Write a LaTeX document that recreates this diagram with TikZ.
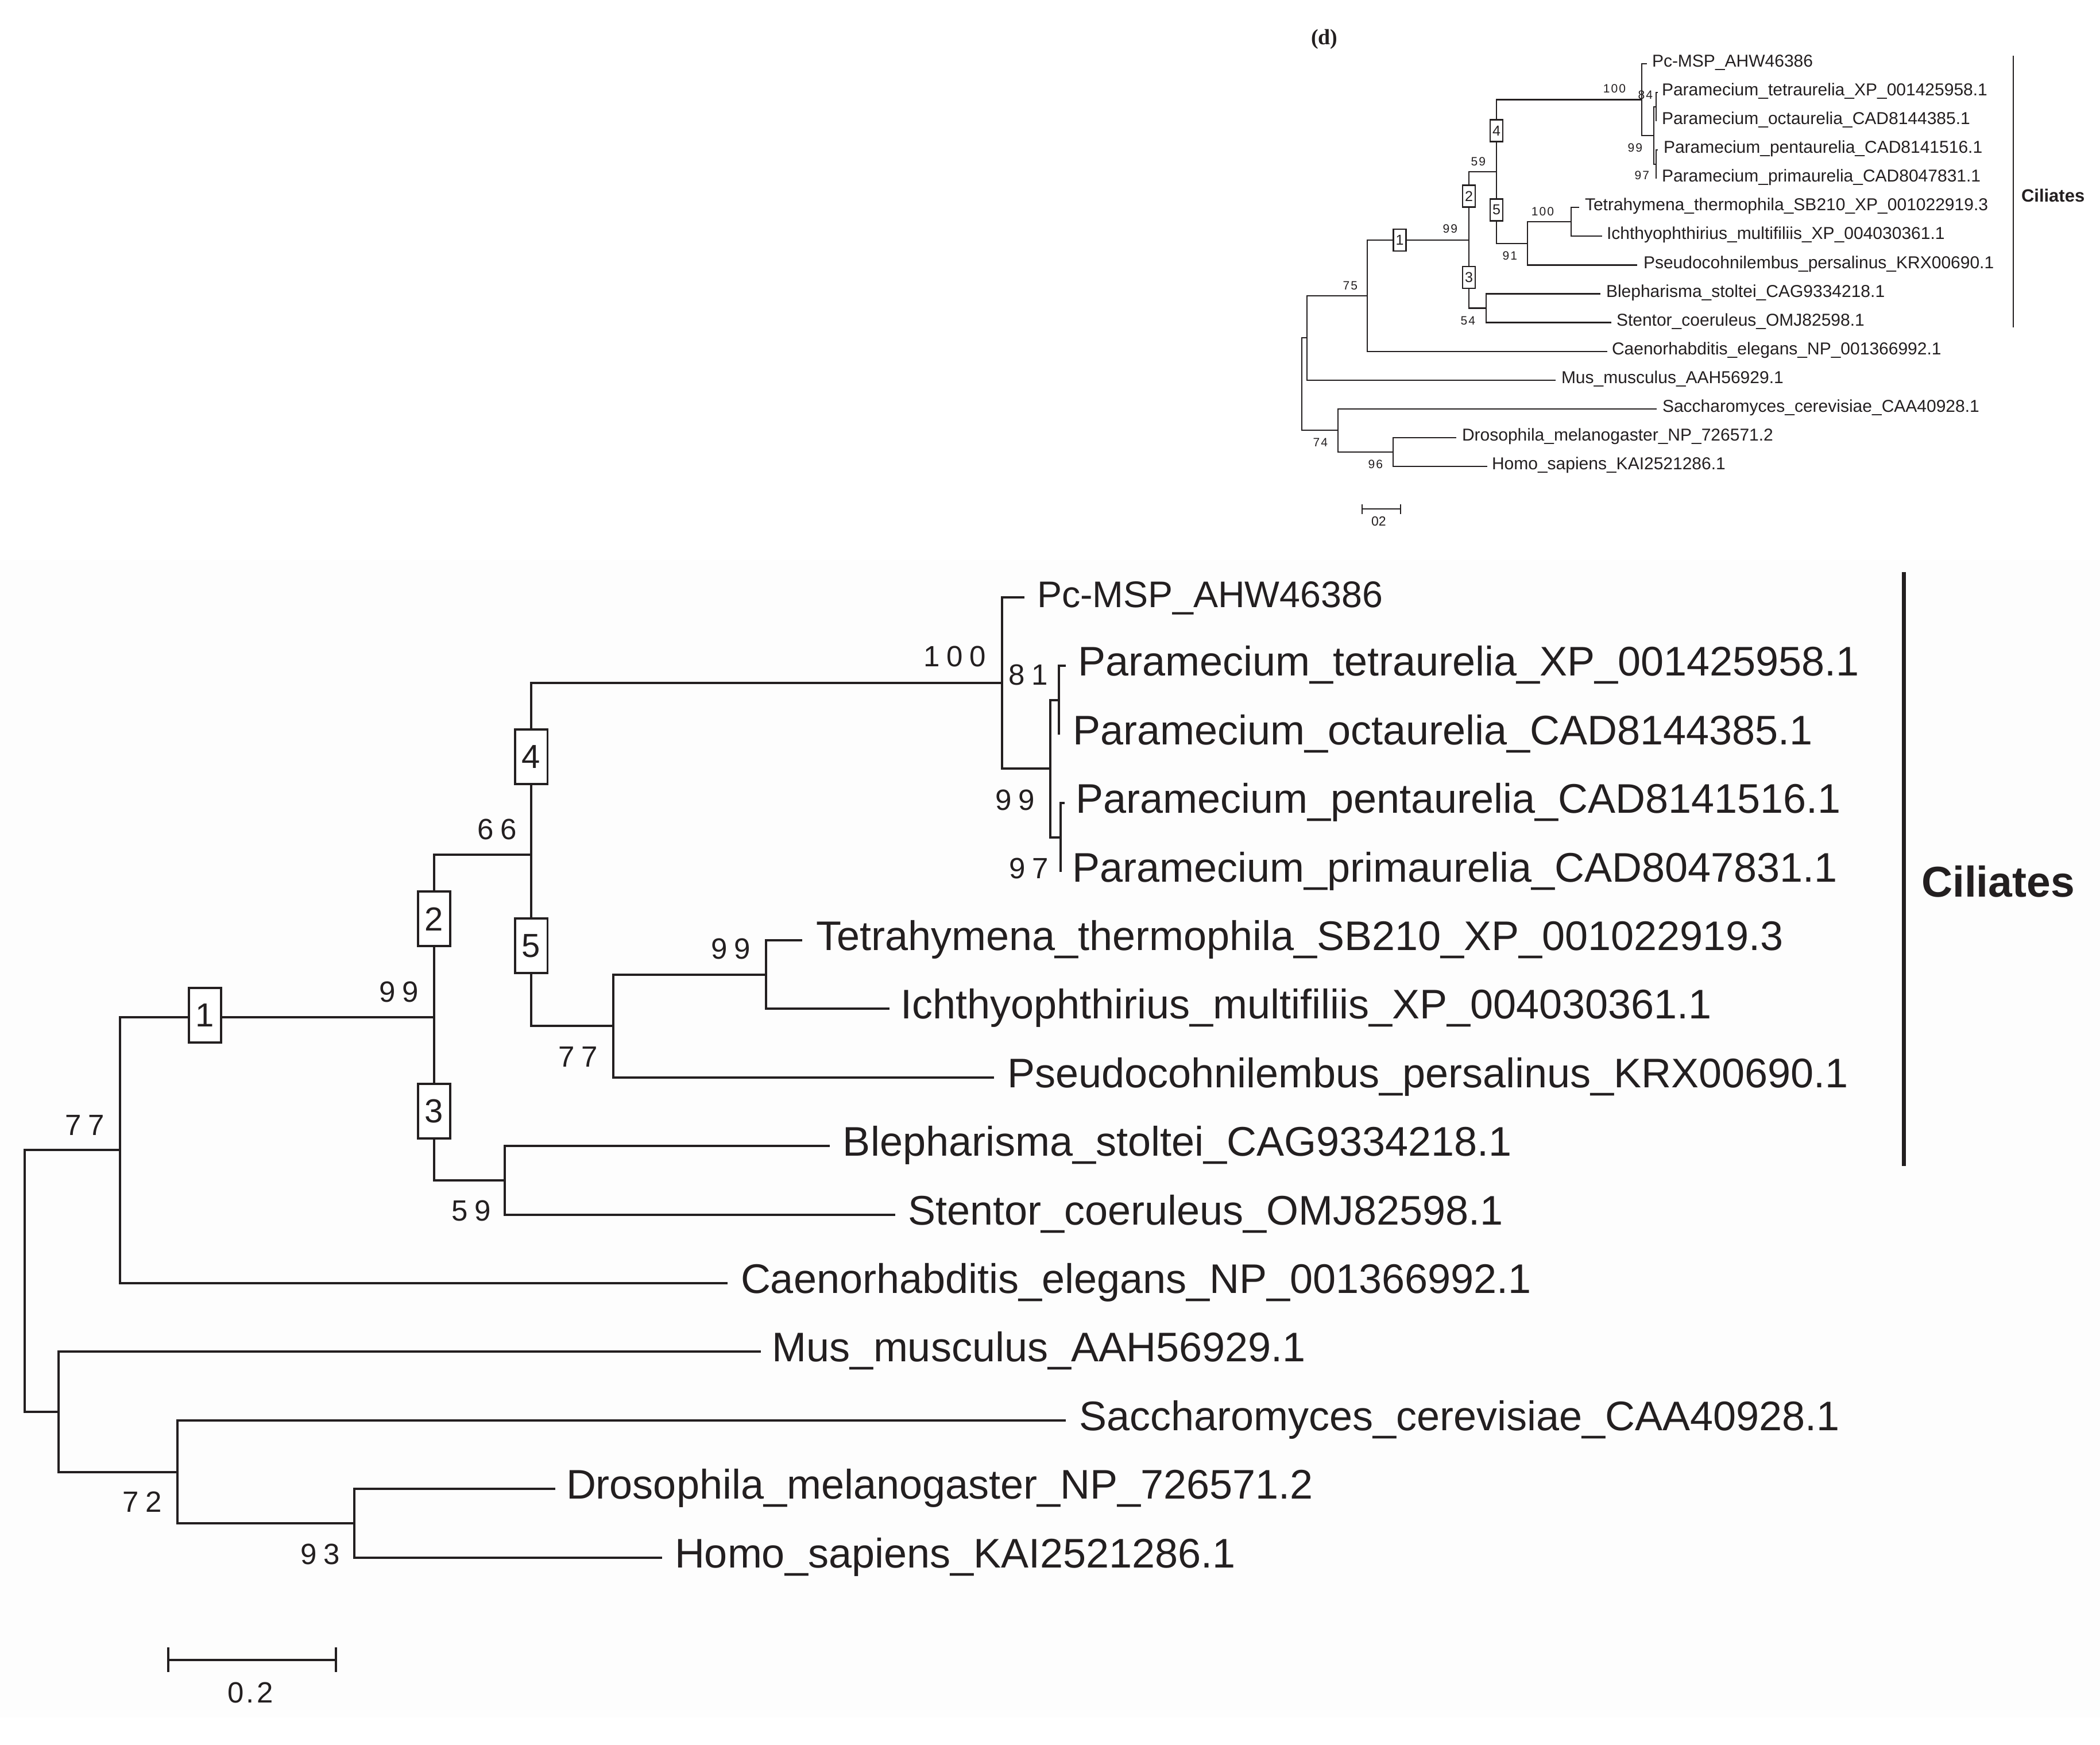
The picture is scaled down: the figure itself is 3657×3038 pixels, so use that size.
\documentclass[tikz,border=0pt]{standalone}
\usepackage{fontspec}
\setmainfont{Liberation Sans}
\newfontfamily\dserif{Liberation Serif}
\definecolor{ink}{RGB}{35,31,32}
\definecolor{panel}{RGB}{253,253,253}
\newcommand{\bk}{\kern1.15pt\relax}
\newcommand{\sk}{\kern0.2pt\relax}
\begin{document}
\begin{tikzpicture}[x=0.1pt,y=-0.1pt,line join=miter,
  branch/.style={draw=ink,line width=0.45pt},
  sbranch/.style={draw=ink,line width=0.22pt},
  taxon/.style={anchor=base west,inner sep=0pt,text=ink,font=\fontsize{7.2}{8}\selectfont},
  staxon/.style={anchor=base west,inner sep=0pt,text=ink,font=\fontsize{3.0}{3.4}\selectfont},
  boot/.style={anchor=east,inner sep=0pt,text=ink,font=\fontsize{5.1}{5.6}\selectfont},
  sboot/.style={anchor=east,inner sep=0pt,text=ink,font=\fontsize{2.1}{2.5}\selectfont},
  numbox/.style={draw=ink,line width=0.4pt,fill=white,minimum width=5.7pt,minimum height=9.5pt,inner sep=0pt,text=ink,font=\fontsize{5.8}{6.2}\selectfont},
  snumbox/.style={draw=ink,line width=0.22pt,fill=white,minimum width=2.2pt,minimum height=3.8pt,inner sep=0pt,text=ink,font=\fontsize{2.5}{2.9}\selectfont}]
\useasboundingbox (0,0) rectangle (3657,3038);
\fill[white] (0,0) rectangle (3657,3038);
\fill[panel] (0,975) rectangle (3657,2990);

% ================= large tree =================
\coordinate (R)   at (43,2230);
\coordinate (N77) at (209,2002);
\coordinate (H3)  at (102,2458);
\coordinate (N99) at (756,1771);
\coordinate (N66) at (925,1488);
\coordinate (S1)  at (879,2055);
\coordinate (P4)  at (1745,1189);
\coordinate (P3)  at (1829,1338);
\coordinate (P1)  at (1844,1219);
\coordinate (P2)  at (1847,1458);
\coordinate (T2)  at (1068,1786);
\coordinate (T1)  at (1334,1697);
\coordinate (H2)  at (309,2563);
\coordinate (H1)  at (617,2652);
\coordinate (xPc)    at (1784,1040);
\coordinate (xTet)   at (1856,1159);
\coordinate (xOct)   at (1844,1279);
\coordinate (xPen)   at (1854,1398);
\coordinate (xPri)   at (1847,1518);
\coordinate (xThe)   at (1397,1637);
\coordinate (xIch)   at (1549,1756);
\coordinate (xPse)   at (1731,1876);
\coordinate (xBle)   at (1445,1995);
\coordinate (xSte)   at (1559,2115);
\coordinate (xCae)   at (1267,2234);
\coordinate (xMus)   at (1325,2353);
\coordinate (xSac)   at (1856,2473);
\coordinate (xDro)   at (967,2592);
\coordinate (xHom)   at (1153,2712);

\draw[branch] (R) |- (N77);
\draw[branch] (R) |- (H3);
\draw[branch] (N77) |- (N99);
\draw[branch] (N77) |- (xCae);
\draw[branch] (N99) |- (N66);
\draw[branch] (N99) |- (S1);
\draw[branch] (N66) |- (P4);
\draw[branch] (N66) |- (T2);
\draw[branch] (P4) |- (xPc);
\draw[branch] (P4) |- (P3);
\draw[branch] (P3) |- (P1);
\draw[branch] (P3) |- (P2);
\draw[branch] (P1) |- (xTet);
\draw[branch] (P1) |- (xOct);
\draw[branch] (P2) |- (xPen);
\draw[branch] (P2) |- (xPri);
\draw[branch] (T2) |- (T1);
\draw[branch] (T2) |- (xPse);
\draw[branch] (T1) |- (xThe);
\draw[branch] (T1) |- (xIch);
\draw[branch] (S1) |- (xBle);
\draw[branch] (S1) |- (xSte);
\draw[branch] (H3) |- (xMus);
\draw[branch] (H3) |- (H2);
\draw[branch] (H2) |- (xSac);
\draw[branch] (H2) |- (H1);
\draw[branch] (H1) |- (xDro);
\draw[branch] (H1) |- (xHom);

\node[numbox] (b1) at (357,1768) {1};
\node[numbox] (b2) at (756,1600) {2};
\node[numbox] (b3) at (756,1935) {3};
\node[numbox] (b4) at (925,1318) {4};
\node[numbox] (b5) at (925,1647) {5};

\node[taxon,font=\fontsize{6.45}{7}\selectfont] (lPc) at (1804,1058) {Pc-MSP\_AHW46386};
\node[taxon] (lTet) at (1875,1177) {Paramecium\_tetraurelia\_XP\_001425958.1};
\node[taxon] (lOct) at (1866,1297) {Paramecium\_octaurelia\_CAD8144385.1};
\node[taxon] (lPen) at (1871,1416) {Paramecium\_pentaurelia\_CAD8141516.1};
\node[taxon] (lPri) at (1865,1536) {Paramecium\_primaurelia\_CAD8047831.1};
\node[taxon] (lThe) at (1419,1655) {Tetrahymena\_thermophila\_SB210\_XP\_001022919.3};
\node[taxon] (lIch) at (1566,1774) {Ichthyophthirius\_multifiliis\_XP\_004030361.1};
\node[taxon] (lPse) at (1752,1894) {Pseudocohnilembus\_persalinus\_KRX00690.1};
\node[taxon] (lBle) at (1466,2013) {Blepharisma\_stoltei\_CAG9334218.1};
\node[taxon] (lSte) at (1579,2133) {Stentor\_coeruleus\_OMJ82598.1};
\node[taxon] (lCae) at (1288,2252) {Caenorhabditis\_elegans\_NP\_001366992.1};
\node[taxon] (lMus) at (1343,2371) {Mus\_musculus\_AAH56929.1};
\node[taxon] (lSac) at (1877,2491) {Saccharomyces\_cerevisiae\_CAA40928.1};
\node[taxon] (lDro) at (984,2610) {Drosophila\_melanogaster\_NP\_726571.2};
\node[taxon] (lHom) at (1173,2730) {Homo\_sapiens\_KAI2521286.1};

\node[boot] (v100) at (1719,1143) {1\bk 0\bk 0};
\node[boot] (v81)  at (1827,1175) {8\bk 1};
\node[boot] (v99a) at (1804,1393) {9\bk 9};
\node[boot] (v97)  at (1828,1512) {9\bk 7};
\node[boot] (v66)  at (902,1444) {6\bk 6};
\node[boot] (v99b) at (731,1727) {9\bk 9};
\node[boot] (v99c) at (1309,1652) {9\bk 9};
\node[boot] (v77a) at (1043,1840) {7\bk 7};
\node[boot] (v59)  at (857,2108) {5\bk 9};
\node[boot] (v77b) at (184,1959) {7\bk 7};
\node[boot] (v72)  at (284,2615) {7\bk 2};
\node[boot] (v93)  at (594,2706) {9\bk 3};

\coordinate (sbL) at (293,2890);
\coordinate (sbR) at (585,2890);
\draw[branch] (sbL) -- (sbR);
\draw[branch] ([yshift=2.2pt]sbL) -- ([yshift=-2.1pt]sbL);
\draw[branch] ([yshift=2.2pt]sbR) -- ([yshift=-2.1pt]sbR);
\node[boot,anchor=center] (sbT) at (436,2947) {0\kern0.4pt.\kern0.4pt2};

\coordinate (cT) at (3315,996);
\coordinate (cB) at (3315,2030);
\draw[draw=ink,line width=0.7pt] (cT) -- (cB);
\node[anchor=base west,inner sep=0pt,text=ink,font=\fontsize{7.5}{8}\selectfont\bfseries] (cil) at (3344,1562) {Ciliates};

% ================= small tree (d) =================
\node[anchor=base west,inner sep=0pt,text=ink,font=\dserif\bfseries\fontsize{3.8}{4.4}\selectfont] (dlab) at (2281,78) {(d)};

\coordinate (rt)  at (2267,668);
\coordinate (nM)  at (2276,588);
\coordinate (n75) at (2381,515);
\coordinate (n99) at (2558,418);
\coordinate (n59) at (2606,299);
\coordinate (s54) at (2588,536.5);
\coordinate (p4)  at (2859,173.5);
\coordinate (p3)  at (2880,236);
\coordinate (p1)  at (2884,186);
\coordinate (p2)  at (2884,286);
\coordinate (t2)  at (2660,424);
\coordinate (t1)  at (2736,386);
\coordinate (h2)  at (2330,749);
\coordinate (h1)  at (2426,787);

\coordinate (sPc)  at (2868,111);
\coordinate (sTet) at (2887,161);
\coordinate (sOct) at (2884,211);
\coordinate (sPen) at (2887,261);
\coordinate (sPri) at (2884,311);
\coordinate (sThe) at (2750,361);
\coordinate (sIch) at (2790,411);
\coordinate (sPse) at (2851,461.5);
\coordinate (sBle) at (2787,511.5);
\coordinate (sSte) at (2806,561.6);
\coordinate (sCae) at (2799,611.7);
\coordinate (sMus) at (2709,661.8);
\coordinate (sSac) at (2885,711.8);
\coordinate (sDro) at (2536,761.9);
\coordinate (sHom) at (2590,812);

\draw[sbranch] (rt) |- (nM);
\draw[sbranch] (rt) |- (h2);
\draw[sbranch] (nM) |- (n75);
\draw[sbranch] (nM) |- (sMus);
\draw[sbranch] (n75) |- (n99);
\draw[sbranch] (n75) |- (sCae);
\draw[sbranch] (n99) |- (n59);
\draw[sbranch] (n99) |- (s54);
\draw[sbranch] (n59) |- (p4);
\draw[sbranch] (n59) |- (t2);
\draw[sbranch] (p4) |- (sPc);
\draw[sbranch] (p4) |- (p3);
\draw[sbranch] (p3) |- (p1);
\draw[sbranch] (p3) |- (p2);
\draw[sbranch] (p1) |- (sTet);
\draw[sbranch] (p1) |- (sOct);
\draw[sbranch] (p2) |- (sPen);
\draw[sbranch] (p2) |- (sPri);
\draw[sbranch] (t2) |- (t1);
\draw[sbranch] (t2) |- (sPse);
\draw[sbranch] (t1) |- (sThe);
\draw[sbranch] (t1) |- (sIch);
\draw[sbranch] (s54) |- (sBle);
\draw[sbranch] (s54) |- (sSte);
\draw[sbranch] (h2) |- (sSac);
\draw[sbranch] (h2) |- (h1);
\draw[sbranch] (h1) |- (sDro);
\draw[sbranch] (h1) |- (sHom);

\node[snumbox] (sb1) at (2437.5,418) {1};
\node[snumbox] (sb2) at (2558,341.5) {2};
\node[snumbox] (sb3) at (2558,483) {3};
\node[snumbox] (sb4) at (2606,227.5) {4};
\node[snumbox] (sb5) at (2606,365.5) {5};

\node[staxon] (mPc)  at (2875,117) {Pc-MSP\_AHW46386};
\node[staxon] (mTet) at (2892,167) {Paramecium\_tetraurelia\_XP\_001425958.1};
\node[staxon] (mOct) at (2892,217) {Paramecium\_octaurelia\_CAD8144385.1};
\node[staxon] (mPen) at (2895,267) {Paramecium\_pentaurelia\_CAD8141516.1};
\node[staxon] (mPri) at (2892,317) {Paramecium\_primaurelia\_CAD8047831.1};
\node[staxon] (mThe) at (2758,367) {Tetrahymena\_thermophila\_SB210\_XP\_001022919.3};
\node[staxon] (mIch) at (2796,417) {Ichthyophthirius\_multifiliis\_XP\_004030361.1};
\node[staxon] (mPse) at (2860,467.5) {Pseudocohnilembus\_persalinus\_KRX00690.1};
\node[staxon] (mBle) at (2795,517.5) {Blepharisma\_stoltei\_CAG9334218.1};
\node[staxon] (mSte) at (2813,567.6) {Stentor\_coeruleus\_OMJ82598.1};
\node[staxon] (mCae) at (2805,617.7) {Caenorhabditis\_elegans\_NP\_001366992.1};
\node[staxon] (mMus) at (2717,667.8) {Mus\_musculus\_AAH56929.1};
\node[staxon] (mSac) at (2893,717.8) {Saccharomyces\_cerevisiae\_CAA40928.1};
\node[staxon] (mDro) at (2544,767.9) {Drosophila\_melanogaster\_NP\_726571.2};
\node[staxon] (mHom) at (2596,818) {Homo\_sapiens\_KAI2521286.1};

\node[sboot] (w100a) at (2833,154) {1\sk 0\sk 0};
\node[sboot] (w84)   at (2880,165) {8\sk 4};
\node[sboot] (w99a)  at (2862,257) {9\sk 9};
\node[sboot] (w97)   at (2874,305) {9\sk 7};
\node[sboot] (w59)   at (2589,281) {5\sk 9};
\node[sboot] (w99b)  at (2540,398) {9\sk 9};
\node[sboot] (w100b) at (2708,368) {1\sk 0\sk 0};
\node[sboot] (w91)   at (2644,445) {9\sk 1};
\node[sboot] (w54)   at (2571,558) {5\sk 4};
\node[sboot] (w75)   at (2366,497) {7\sk 5};
\node[sboot] (w74)   at (2314,770) {7\sk 4};
\node[sboot] (w96)   at (2410,808) {9\sk 6};

\coordinate (ssL) at (2372,886);
\coordinate (ssR) at (2439,886);
\draw[sbranch] (ssL) -- (ssR);
\draw[sbranch] ([yshift=0.8pt]ssL) -- ([yshift=-0.9pt]ssL);
\draw[sbranch] ([yshift=0.8pt]ssR) -- ([yshift=-0.9pt]ssR);
\node[sboot,anchor=center,font=\fontsize{2.3}{2.7}\selectfont] (ssT) at (2401,908) {02};

\coordinate (scT) at (3506,97);
\coordinate (scB) at (3506,570);
\draw[draw=ink,line width=0.22pt] (scT) -- (scB);
\node[anchor=base west,inner sep=0pt,text=ink,font=\fontsize{3.1}{3.5}\selectfont\bfseries] (scil) at (3518,352) {Ciliates};
\end{tikzpicture}
\end{document}
